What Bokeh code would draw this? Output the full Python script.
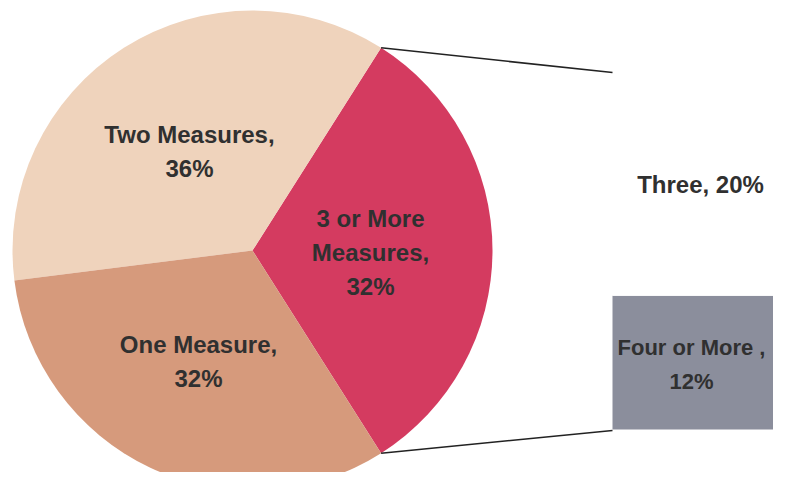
import math
from bokeh.plotting import figure
from bokeh.models import Range1d
from bokeh.core.properties import value
from bokeh.embed import file_html
from bokeh.resources import INLINE

# ---- data ----
pie_labels = ["3 or More\nMeasures,\n32%", "Two Measures,\n36%", "One Measure,\n32%"]
pie_values = [32, 36, 32]
pie_colors = ["#D43B60", "#EFD3BC", "#D69A7C"]

bar_labels = ["Four or More ,\n12%", "Three, 20%"]
bar_values = [12, 20]
bar_colors = ["#8B8E9C", "#FFFFFF"]

# ---- layout (reference pixel space, y flipped) ----
H = 488
cx, cy, R = 252, H - 250, 240
bar_left, bar_right = 612, 800
bar_bottom, bar_top = H - 429, H - 72
font = value("Liberation Sans")

p = figure(width=773, height=472, output_backend="svg", toolbar_location=None,
           x_range=Range1d(0, 773), y_range=Range1d(H - 472, H), min_border=0)
p.axis.visible = False
p.grid.visible = False
p.outline_line_color = None
p.background_fill_color = "white"

# pie
total = sum(pie_values)
start = -pie_values[0] / total * math.pi
starts, ends = [], []
a = start
for v in pie_values:
    starts.append(a)
    a += v / total * 2 * math.pi
    ends.append(a)
p.wedge(x=cx, y=cy, radius=R, start_angle=starts, end_angle=ends,
        fill_color=pie_colors, line_color=None)

# bar of pie
scale = (bar_top - bar_bottom) / sum(bar_values)
bots, tops = [], []
b = bar_bottom
for v in bar_values:
    bots.append(b)
    b += v * scale
    tops.append(b)
p.quad(left=bar_left, right=bar_right, bottom=bots, top=tops,
       fill_color=bar_colors, line_color=None)

# connector lines
a_top, a_bot = ends[0], starts[0]
p.segment(x0=[cx + R * math.cos(a_top), cx + R * math.cos(a_bot)],
          y0=[cy + R * math.sin(a_top), cy + R * math.sin(a_bot)],
          x1=[bar_left, bar_left], y1=[bar_top, bar_bottom - 1],
          line_color="#222222", line_width=1.5)

# labels
lx = [370, 189, 198]
ly = [H - 252, H - 151, H - 361]
p.text(x=lx, y=ly, text=pie_labels, text_align="center", text_baseline="middle",
       text_font=font, text_font_style="bold", text_font_size="24px",
       text_color="#303030", text_line_height=1.25)

p.text(x=[691], y=[H - 364], text=bar_labels[:1], text_align="center",
       text_baseline="middle", text_font=font, text_font_style="bold",
       text_font_size="22px", text_color="#303030", text_line_height=1.35)
p.text(x=[700], y=[H - 184], text=bar_labels[1:], text_align="center",
       text_baseline="middle", text_font=font, text_font_style="bold",
       text_font_size="24px", text_color="#303030")

open("out.html", "w").write(file_html(p, INLINE))
